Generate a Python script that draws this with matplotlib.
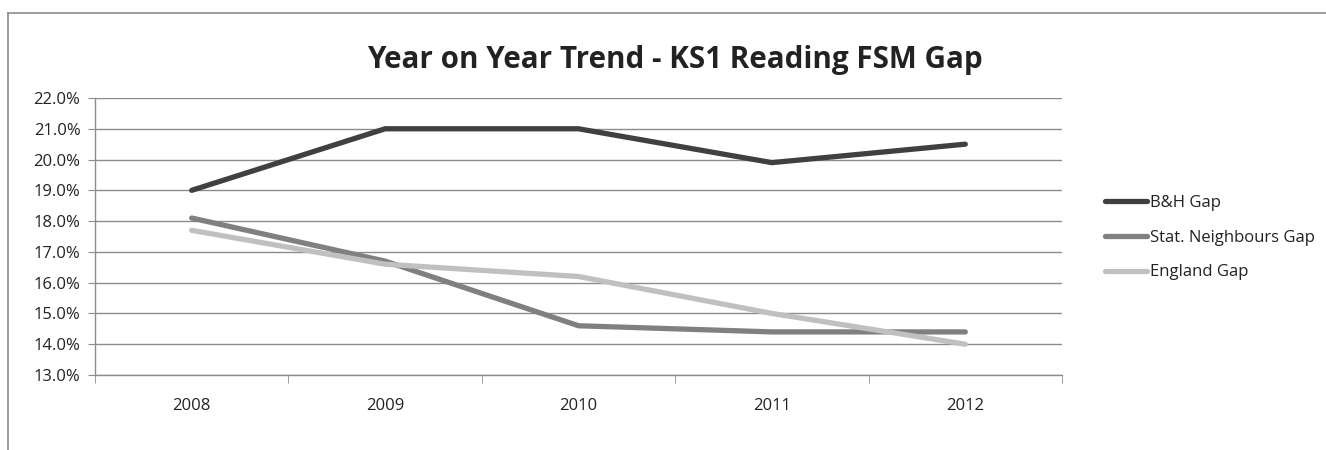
import matplotlib
matplotlib.use("Agg")
import matplotlib.pyplot as plt
from matplotlib.lines import Line2D
from matplotlib.ticker import FixedLocator, FuncFormatter

plt.rcParams['font.family'] = ['Open Sans', 'DejaVu Sans']

# data (percent)
years = ['2008', '2009', '2010', '2011', '2012']
bh_gap = [19.0, 21.0, 21.0, 19.9, 20.5]
stat_gap = [18.1, 16.7, 14.6, 14.4, 14.4]
england_gap = [17.7, 16.6, 16.2, 15.0, 14.0]

series = [
    ('B&H Gap', bh_gap, '#404040'),
    ('Stat. Neighbours Gap', stat_gap, '#808080'),
    ('England Gap', england_gap, '#c0c0c2'),
]

W, H = 1326, 450
fig = plt.figure(figsize=(W / 100, H / 100), dpi=100)

# chart frame (cropped on right/bottom like the original)
frame_col = '#8c8c8c'
fig.add_artist(Line2D([8 / W, 1], [1 - 13 / H, 1 - 13 / H], color=frame_col, lw=1.2, transform=fig.transFigure))
fig.add_artist(Line2D([8 / W, 8 / W], [1 - 13 / H, 0], color=frame_col, lw=1.2, transform=fig.transFigure))

ax = fig.add_axes([95 / W, 1 - 375 / H, (1062 - 95) / W, (375 - 98) / H])

x = list(range(len(years)))
for name, vals, col in series:
    ax.plot(x, vals, color=col, lw=3.8, solid_capstyle='round', solid_joinstyle='miter', label=name)

ax.set_xlim(-0.5, len(years) - 0.5)
ax.set_ylim(13, 22)
ax.yaxis.set_major_locator(FixedLocator([13 + i for i in range(10)]))
ax.yaxis.set_major_formatter(FuncFormatter(lambda v, p: f'{v:.1f}%'))
ax.grid(axis='y', color='#8c8c8c', lw=1.0)
ax.set_axisbelow(True)

ax.set_xticks(x)
ax.set_xticklabels(years)
ax.set_xticks([i - 0.5 for i in range(len(years) + 1)], minor=True)
ax.tick_params(axis='x', which='major', length=0, pad=16.5, labelsize=12, colors='#222222')
ax.tick_params(axis='x', which='minor', length=6, direction='out', color='#8c8c8c')
ax.tick_params(axis='y', length=5, direction='out', color='#8c8c8c', pad=5.5, labelsize=12, labelcolor='#222222')

for s in ['top', 'right']:
    ax.spines[s].set_visible(False)
for s in ['left', 'bottom']:
    ax.spines[s].set_color('#8c8c8c')
    ax.spines[s].set_linewidth(1.0)

fig.text(675 / W, 1 - 68 / H, 'Year on Year Trend - KS1 Reading FSM Gap',
         ha='center', va='baseline', fontsize=21.3, fontweight='bold', color='#222222')

leg = fig.legend(loc='upper left', bbox_to_anchor=(1105 / W, 1 - 195 / H), frameon=False,
                 fontsize=12, handlelength=2.5, handletextpad=0.2, labelspacing=1.12,
                 borderaxespad=0, borderpad=0)
for t in leg.get_texts():
    t.set_color('#222222')

fig.savefig('out.png', dpi=100)
